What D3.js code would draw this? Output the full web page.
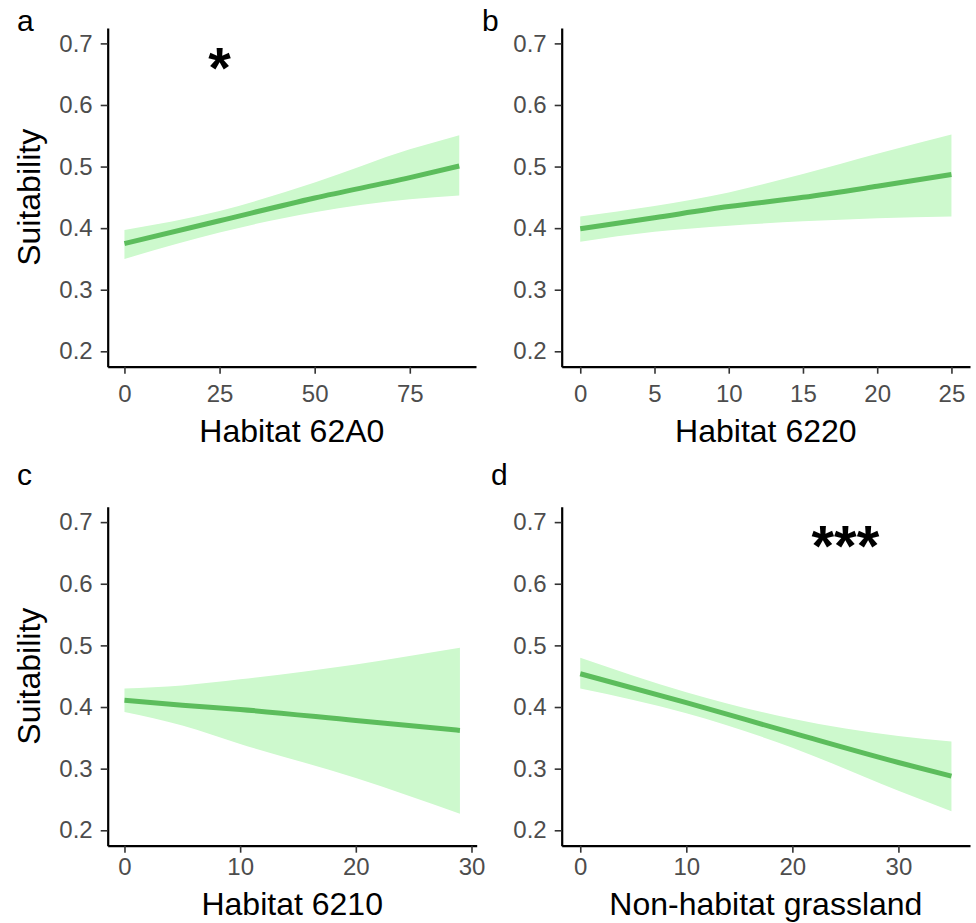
<!DOCTYPE html>
<html>
<head>
<meta charset="utf-8">
<script src="https://cdn.jsdelivr.net/npm/d3@7"></script>
<style>
  body { margin: 0; background: #fff; }
  text { font-family: "Liberation Sans", Arial, sans-serif; }
</style>
</head>
<body>
<svg id="fig" width="976" height="923"></svg>
<script>
// values
var panelLetters = ["a", "b", "c", "d"];
var xTitles = ["Habitat 62A0", "Habitat 6220", "Habitat 6210", "Non-habitat grassland"];
var xTicks = [[0, 25, 50, 75], [0, 5, 10, 15, 20, 25], [0, 10, 20, 30], [0, 10, 20, 30]];
var yTicks = [0.2, 0.3, 0.4, 0.5, 0.6, 0.7];
var signif = ["*", "", "", "***"];
var signifX = [25, null, null, 25];
var signifY = 0.628;

var xA = [0, 25, 50, 75, 88];
var fitA = [0.375, 0.412, 0.449, 0.482, 0.501];
var loA = [0.350, 0.393, 0.426, 0.447, 0.453];
var hiA = [0.397, 0.428, 0.474, 0.528, 0.551];

var xB = [0, 5, 10, 15, 20, 25];
var fitB = [0.399, 0.417, 0.435, 0.450, 0.468, 0.487];
var loB = [0.378, 0.394, 0.404, 0.411, 0.416, 0.419];
var hiB = [0.419, 0.436, 0.458, 0.488, 0.521, 0.552];

var xC = [0, 5, 10, 20, 29];
var fitC = [0.411, 0.403, 0.396, 0.378, 0.362];
var loC = [0.392, 0.370, 0.340, 0.285, 0.227];
var hiC = [0.430, 0.435, 0.445, 0.469, 0.496];

var xD = [0, 10, 20, 30, 35];
var fitD = [0.454, 0.407, 0.358, 0.310, 0.288];
var loD = [0.430, 0.390, 0.334, 0.264, 0.231];
var hiD = [0.480, 0.424, 0.381, 0.353, 0.344];

var series = [
    {x: xA, fit: fitA, lo: loA, hi: hiA},
    {x: xB, fit: fitB, lo: loB, hi: hiB},
    {x: xC, fit: fitC, lo: loC, hi: hiC},
    {x: xD, fit: fitD, lo: loD, hi: hiD}
];

// plot boxes (left, top, right, bottom)
var boxes = [
    {l: 107.7, t: 28, r: 476, b: 366.7},
    {l: 561.7, t: 28, r: 970, b: 366.7},
    {l: 107.7, t: 506.7, r: 476.7, b: 845.7},
    {l: 561.7, t: 506.7, r: 970, b: 845.7}
];
var xLabelPad = [11, 11, 5, 5];
var xTitleOff = [75, 75, 69, 69];
var letterPos = [[17, 31], [482, 31], [17, 485], [491, 485]];

var svg = d3.select("#fig");
var ribbonCol = "#cdf9cd";
var lineCol = "#5cbd5c";

series.forEach(function(s, i) {
    var box = boxes[i];
    var xmax = s.x[s.x.length - 1];
    var x = d3.scaleLinear().domain([-0.05 * xmax, 1.05 * xmax]).range([box.l, box.r]);
    var y = d3.scaleLinear().domain([0.175, 0.725]).range([box.b, box.t]);

    var pts = s.x.map(function(v, j) { return {x: v, fit: s.fit[j], lo: s.lo[j], hi: s.hi[j]}; });
    var g = svg.append("g");

    g.append("path")
        .datum(pts)
        .attr("fill", ribbonCol)
        .attr("d", d3.area()
            .curve(d3.curveMonotoneX)
            .x(function(d) { return x(d.x); })
            .y0(function(d) { return y(d.lo); })
            .y1(function(d) { return y(d.hi); }));

    g.append("path")
        .datum(pts)
        .attr("fill", "none")
        .attr("stroke", lineCol)
        .attr("stroke-width", 5)
        .attr("d", d3.line()
            .curve(d3.curveMonotoneX)
            .x(function(d) { return x(d.x); })
            .y(function(d) { return y(d.fit); }));

    var yAxis = g.append("g")
        .attr("transform", "translate(" + box.l + ",0)")
        .call(d3.axisLeft(y).tickValues(yTicks).tickFormat(d3.format(".1f"))
            .tickSize(7).tickSizeOuter(0).tickPadding(8));

    var xAxis = g.append("g")
        .attr("transform", "translate(0," + box.b + ")")
        .call(d3.axisBottom(x).tickValues(xTicks[i]).tickFormat(d3.format("d"))
            .tickSize(7).tickSizeOuter(0).tickPadding(xLabelPad[i]));

    [yAxis, xAxis].forEach(function(ax) {
        ax.select(".domain").attr("stroke", "#000").attr("stroke-width", 2.2);
        ax.selectAll(".tick line").attr("stroke", "#333").attr("stroke-width", 1.6);
        ax.selectAll(".tick text")
            .attr("fill", "#4d4d4d")
            .style("font-size", "24px")
            .style("font-family", "'Liberation Sans', Arial, sans-serif");
    });

    g.append("text")
        .attr("x", (box.l + box.r) / 2)
        .attr("y", box.b + xTitleOff[i])
        .attr("text-anchor", "middle")
        .style("font-size", "32px")
        .text(xTitles[i]);

    if (i % 2 === 0) {
        g.append("text")
            .attr("transform", "translate(40," + (box.t + box.b) / 2 + ") rotate(-90)")
            .attr("text-anchor", "middle")
            .style("font-size", "32px")
            .text("Suitability");
    }

    g.append("text")
        .attr("x", letterPos[i][0])
        .attr("y", letterPos[i][1])
        .style("font-size", "30px")
        .text(panelLetters[i]);

    if (signif[i]) {
        g.append("text")
            .attr("x", x(signifX[i]))
            .attr("y", y(signifY))
            .attr("text-anchor", "middle")
            .style("font-size", "58px")
            .style("font-weight", "bold")
            .text(signif[i]);
    }
});
</script>
</body>
</html>
